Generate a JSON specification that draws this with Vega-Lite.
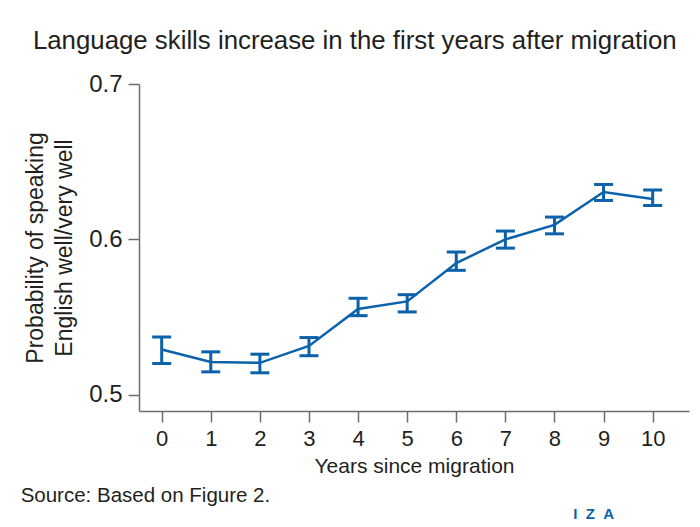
{
  "$schema": "https://vega.github.io/schema/vega-lite/v6.json",
  "background": "white",
  "padding": {"left": 20, "top": 28, "right": 5, "bottom": 5},
  "title": {
    "text": "Language skills increase in the first years after migration",
    "anchor": "middle",
    "frame": "bounds",
    "font": "Liberation Sans",
    "fontSize": 25.8,
    "fontWeight": "normal",
    "color": "#231f20",
    "offset": 17
  },
  "vconcat": [
    {
      "title": {
        "text": "I\u00a0\u00a0Z\u00a0\u00a0A",
        "orient": "bottom",
        "anchor": "end",
        "font": "Liberation Sans",
        "fontSize": 15,
        "fontWeight": "bold",
        "color": "#0b62ab",
        "dx": -75,
        "offset": 0
      },
      "vconcat": [
        {
          "title": {
            "text": "Source: Based on Figure 2.",
            "orient": "bottom",
            "anchor": "start",
            "frame": "bounds",
            "font": "Liberation Sans",
            "fontSize": 20.5,
            "fontWeight": "normal",
            "color": "#231f20",
            "dx": -4,
            "offset": 10
          },
          "width": 550,
          "height": 327,
          "data": {
            "values": [
              {"year": 0, "mean": 0.529, "lo": 0.520, "hi": 0.537},
              {"year": 1, "mean": 0.521, "lo": 0.5146, "hi": 0.5275},
              {"year": 2, "mean": 0.5204, "lo": 0.514, "hi": 0.526},
              {"year": 3, "mean": 0.5313, "lo": 0.525, "hi": 0.5367},
              {"year": 4, "mean": 0.5551, "lo": 0.5508, "hi": 0.562},
              {"year": 5, "mean": 0.560, "lo": 0.5532, "hi": 0.5643},
              {"year": 6, "mean": 0.5847, "lo": 0.580, "hi": 0.5918},
              {"year": 7, "mean": 0.5999, "lo": 0.5943, "hi": 0.6053},
              {"year": 8, "mean": 0.6093, "lo": 0.6035, "hi": 0.6143},
              {"year": 9, "mean": 0.6304, "lo": 0.625, "hi": 0.6353},
              {"year": 10, "mean": 0.626, "lo": 0.6218, "hi": 0.6318}
            ]
          },
          "encoding": {
            "x": {
              "field": "year",
              "type": "quantitative",
              "scale": {"domain": [-0.462, 10.74], "nice": false, "zero": false},
              "axis": {
                "values": [0, 1, 2, 3, 4, 5, 6, 7, 8, 9, 10],
                "title": "Years since migration",
                "grid": false,
                "labelFont": "Liberation Sans",
                "labelFontSize": 22,
                "titleFont": "Liberation Sans",
                "titleFontSize": 21,
                "titleFontWeight": "normal",
                "titlePadding": 6,
                "labelPadding": 6
              }
            }
          },
          "layer": [
            {
              "mark": {"type": "line", "color": "#0b62ab", "strokeWidth": 2.5},
              "encoding": {
                "y": {
                  "field": "mean",
                  "type": "quantitative",
                  "scale": {"domain": [0.4894, 0.7], "nice": false, "zero": false},
                  "axis": {
                    "values": [0.5, 0.6, 0.7],
                    "format": ".1f",
                    "title": ["Probability of speaking", "English well/very well"],
                    "grid": false,
                    "labelFont": "Liberation Sans",
                    "labelFontSize": 24,
                    "titleFont": "Liberation Sans",
                    "titleFontSize": 23,
                    "titleFontWeight": "normal",
                    "titleLineHeight": 29,
                    "labelPadding": 6,
                    "titlePadding": 12
                  }
                }
              }
            },
            {
              "mark": {"type": "rule", "color": "#0b62ab", "strokeWidth": 3},
              "encoding": {
                "y": {"field": "lo", "type": "quantitative"},
                "y2": {"field": "hi"}
              }
            },
            {
              "mark": {"type": "tick", "orient": "horizontal", "color": "#0b62ab", "size": 19, "thickness": 3, "opacity": 1},
              "encoding": {"y": {"field": "lo", "type": "quantitative"}}
            },
            {
              "mark": {"type": "tick", "orient": "horizontal", "color": "#0b62ab", "size": 19, "thickness": 3, "opacity": 1},
              "encoding": {"y": {"field": "hi", "type": "quantitative"}}
            }
          ]
        }
      ]
    }
  ],
  "config": {
    "view": {"stroke": null},
    "axis": {
      "domainColor": "#6d6e71",
      "tickColor": "#6d6e71",
      "domainWidth": 1.5,
      "tickWidth": 1.5,
      "tickSize": 11,
      "labelColor": "#231f20",
      "titleColor": "#231f20"
    }
  }
}
